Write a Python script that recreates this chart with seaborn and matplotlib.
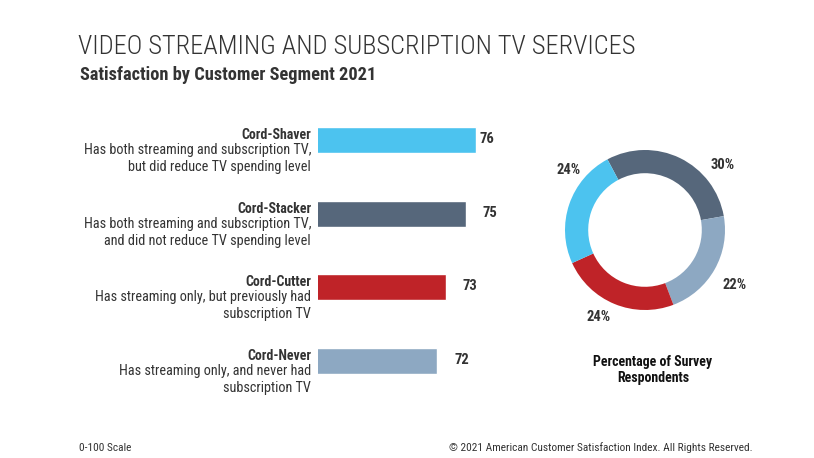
import matplotlib
matplotlib.use("Agg")
import matplotlib.pyplot as plt
import seaborn as sns
import pandas as pd

# data
segments = ["Cord-Shaver", "Cord-Stacker", "Cord-Cutter", "Cord-Never"]
descriptions = [
    "Has both streaming and subscription TV,\nbut did reduce TV spending level",
    "Has both streaming and subscription TV,\nand did not reduce TV spending level",
    "Has streaming only, but previously had\nsubscription TV",
    "Has streaming only, and never had\nsubscription TV",
]
scores = [76, 75, 73, 72]
colors = ["#4cc3ef", "#56677b", "#bf2328", "#8da8c2"]

# donut (clockwise from upper left)
donut_segments = ["Cord-Stacker", "Cord-Never", "Cord-Cutter", "Cord-Shaver"]
donut_shares = [30, 22, 24, 24]
donut_label_pos = [(0.975, 0.81), (1.125, -0.69), (-0.575, -1.09), (-0.96, 0.75)]

sns.set_theme(style="white")
plt.rcParams["font.family"] = ["Roboto Condensed", "DejaVu Sans"]
text_col = "#333333"

fig = plt.figure(figsize=(8.14, 4.58), dpi=100)

# bar chart
W, H = 814, 458
ax = fig.add_axes([318 / W, (458 - 398) / H, 197.5 / W, 295 / H])
df = pd.DataFrame({"segment": segments, "score": scores})
sns.barplot(data=df, y="segment", x="score", hue="segment", palette=colors,
            orient="h", width=0.35, legend=False, ax=ax, saturation=1)
ax.set_xlim(60, 80)
ax.set_ylim(3.5, -0.5)
ax.axis("off")

# value label gaps (pixels) as in the original layout
label_gap = [3, 16, 16, 18]
for i, (seg, desc, val) in enumerate(zip(segments, descriptions, scores)):
    ax.annotate(seg, xy=(0, i), xycoords=("axes fraction", "data"),
                xytext=(-7, 5), textcoords="offset pixels", ha="right", va="center",
                fontsize=10, fontweight="bold", color=text_col)
    ax.annotate(desc, xy=(0, i), xycoords=("axes fraction", "data"),
                xytext=(-7, -3), textcoords="offset pixels", ha="right", va="top",
                fontsize=10.3, color=text_col, linespacing=1.28)
    ax.annotate(str(val), xy=(val, i), xycoords="data",
                xytext=(label_gap[i], 1), textcoords="offset pixels", ha="left", va="center",
                fontsize=10.5, fontweight="bold", color=text_col)

# donut
ax2 = fig.add_axes([545 / W, (458 - 330) / H, 200 / W, 200 / H])
donut_colors = [colors[segments.index(s)] for s in donut_segments]
ax2.pie(donut_shares, colors=donut_colors, startangle=118, counterclock=False,
        wedgeprops=dict(width=0.29, edgecolor="none"))
ax2.set_xlim(-1.25, 1.25)
ax2.set_ylim(-1.25, 1.25)
ax2.set_aspect("equal")
for share, (x, y) in zip(donut_shares, donut_label_pos):
    ax2.text(x, y, f"{share}%", ha="center", va="center", fontsize=10.5,
             fontweight="bold", color=text_col)

fig.text(653 / W, 1 - 370 / H, "Percentage of Survey\nRespondents", ha="center",
         va="center", fontsize=10, fontweight="bold", color="#111111", linespacing=1.1)

# titles
fig.text(78 / W, 1 - 47 / H, "VIDEO STREAMING AND SUBSCRIPTION TV SERVICES",
         ha="left", va="center", fontsize=19, fontweight="light", color=text_col)
fig.text(80 / W, 1 - 75 / H, "Satisfaction by Customer Segment 2021",
         ha="left", va="center", fontsize=13.2, fontweight="bold", color=text_col)

# footer
fig.text(79 / W, 1 - 448 / H, "0-100 Scale", ha="left", va="center",
         fontsize=8.2, color=text_col)
fig.text(753 / W, 1 - 448 / H,
         "\u00a9 2021 American Customer Satisfaction Index. All Rights Reserved.",
         ha="right", va="center", fontsize=8.2, color=text_col)

fig.savefig("out.png", dpi=100, facecolor="white")
